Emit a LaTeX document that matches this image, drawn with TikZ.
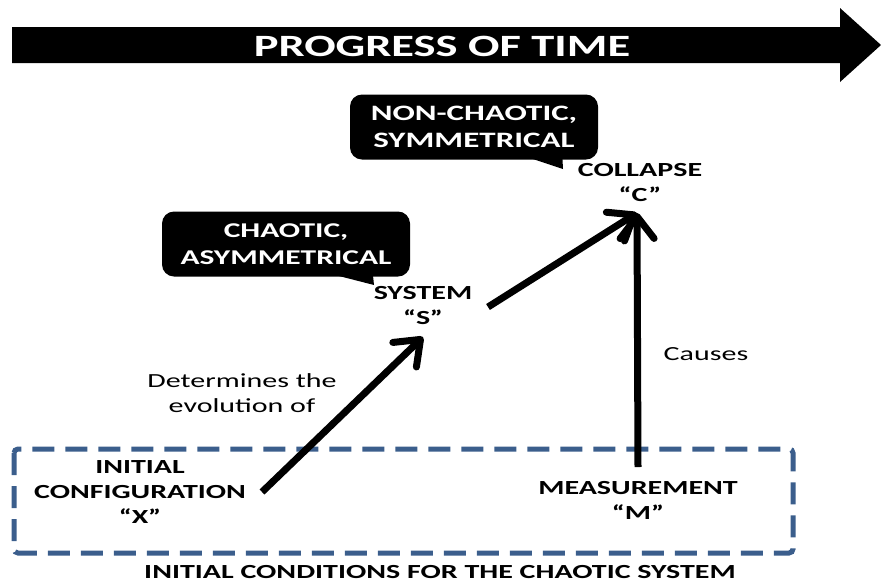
\documentclass[tikz,border=0pt]{standalone}
\usepackage{fontspec}
\setmainfont{Carlito}[FakeStretch=1.5]
\usetikzlibrary{arrows.meta}
\definecolor{boxblue}{RGB}{59,94,140}
\tikzset{
  bubble/.style={fill=black, rounded corners=12pt, text=white, align=center,
    font=\bfseries\fontsize{22}{27}\selectfont, minimum width=248pt, minimum height=65pt, inner sep=0pt},
  lbl/.style={align=center, font=\bfseries\fontsize{20}{25}\selectfont, inner sep=0pt},
  note/.style={align=center, font=\fontsize{20}{25}\selectfont, inner sep=0pt},
  conn/.style={line width=7pt, -{Straight Barb[length=22pt, width=34pt, round]}},
  boxline/.style={draw=boxblue, line width=5pt, dash pattern=on 22pt off 11pt, rounded corners=4pt}
}
\begin{document}
\begin{tikzpicture}[x=1pt,y=-1pt]
\useasboundingbox (0,0) rectangle (881,582);
% time arrow
\fill[black] (12,27) -- (840,27) -- (840,8) -- (881,45) -- (840,82) -- (840,63) -- (12,63) -- cycle;
\node[text=white, font=\bfseries\fontsize{31}{34}\selectfont] (title) at (442,46) {PROGRESS OF TIME};
% bubbles
\node[bubble] (b1) at (474,127) {NON-CHAOTIC,\\SYMMETRICAL};
\fill[black] (530,158) -- (563,169) -- (562,150) -- cycle;
\node[bubble, font=\bfseries\fontsize{21}{27}\selectfont] (b2) at (286,244) {CHAOTIC,\\ASYMMETRICAL};
\fill[black] (335,275) -- (374,285) -- (372,266) -- cycle;
% labels
\node[lbl] (C) at (640,183) {COLLAPSE\\“C”};
\node[lbl] (S) at (423,306) {SYSTEM\\“S”};
\node[lbl] (X) at (140,492) {INITIAL\\CONFIGURATION\\“X”};
\node[lbl] (M) at (638,500) {MEASUREMENT\\“M”};
\node[note] (det) at (242,393) {Determines the\\evolution of};
\node[note] (cau) at (706,354) {Causes};
% dashed box
\draw[boxline] (14,449) rectangle (793,553);
\node[lbl] (cond) at (440,572) {INITIAL CONDITIONS FOR THE CHAOTIC SYSTEM};
% connectors
\coordinate (xs) at (262,492);
\coordinate (st) at (423,337);
\coordinate (ss) at (488,307);
\coordinate (ct) at (637,213);
\coordinate (ms) at (638,467);
\draw[conn] (xs) -- (st);
\draw[conn] (ss) -- (ct);
\draw[conn] (ms) -- (ct);
\end{tikzpicture}
\end{document}
